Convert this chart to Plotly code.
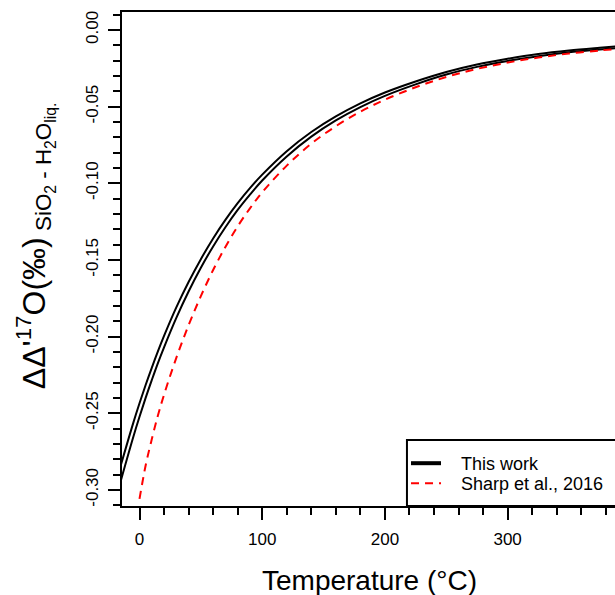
import plotly.graph_objects as go

# ---- data ----
temp_this = [-15, -5, 0, 5, 10, 15, 20, 30, 40, 50, 60, 70, 80, 90, 100, 120, 140, 160,
             180, 200, 225, 250, 275, 300, 325, 350, 375, 390]
this_upper = [-0.2833, -0.2561, -0.2435, -0.2316, -0.2204, -0.2097, -0.1996, -0.1810, -0.1644,
              -0.1495, -0.1360, -0.1239, -0.1130, -0.1032, -0.0944, -0.0791, -0.0666, -0.0564,
              -0.0479, -0.0408, -0.0336, -0.0274, -0.0225, -0.0188, -0.0157, -0.0134, -0.0116, -0.0106]
this_lower = [-0.2933, -0.2653, -0.2523, -0.2400, -0.2284, -0.2173, -0.2070, -0.1878, -0.1706,
              -0.1551, -0.1412, -0.1287, -0.1174, -0.1074, -0.0982, -0.0825, -0.0696, -0.0590,
              -0.0503, -0.0430, -0.0355, -0.0291, -0.0241, -0.0202, -0.0171, -0.0146, -0.0128, -0.0118]

temp_sharp = [0, 5, 10, 15, 20, 30, 40, 50, 60, 70, 80, 90, 100, 120, 140, 160, 180, 200,
              225, 250, 275, 300, 325, 350, 375, 390]
sharp_vals = [-0.3059, -0.2841, -0.2670, -0.2515, -0.2379, -0.2139, -0.1926, -0.1736, -0.1566,
              -0.1415, -0.1281, -0.1164, -0.1059, -0.0885, -0.0742, -0.0628, -0.0533, -0.0455,
              -0.0374, -0.0307, -0.0254, -0.0213, -0.0180, -0.0154, -0.0134, -0.0123]

x_tickvals = [0, 100, 200, 300]
x_ticktext = ["0", "100", "200", "300"]
y_tickvals = [0.0, -0.05, -0.10, -0.15, -0.20, -0.25, -0.30]
y_ticktext = ["0.00", "-0.05", "-0.10", "-0.15", "-0.20", "-0.25", "-0.30"]

FONT = "Liberation Sans, Arial, sans-serif"
NB = "\u00a0"

fig = go.Figure()
fig.add_trace(go.Scatter(x=temp_this, y=this_upper, mode="lines", line=dict(color="black", width=2, shape="spline"),
                         showlegend=False, hoverinfo="skip"))
fig.add_trace(go.Scatter(x=temp_this, y=this_lower, mode="lines", line=dict(color="black", width=2, shape="spline"),
                         showlegend=False, hoverinfo="skip"))
fig.add_trace(go.Scatter(x=[None], y=[None], mode="lines", line=dict(color="black", width=4),
                         name=NB * 3 + "This work", legend="legend"))
fig.add_trace(go.Scatter(x=temp_sharp, y=sharp_vals, mode="lines",
                         line=dict(color="#ff0000", width=2, dash="8px,6px", shape="spline"),
                         name=NB * 3 + "Sharp et al., 2016", legend="legend2"))

leg_common = dict(xanchor="left", yanchor="top", bgcolor="rgba(0,0,0,0)", borderwidth=0,
                  font=dict(family=FONT, size=18, color="black"), itemwidth=30)

fig.update_layout(
    width=615, height=595,
    margin=dict(l=122, r=0, t=12, b=89),
    paper_bgcolor="white", plot_bgcolor="white",
    font=dict(family=FONT, size=17, color="black"),
    showlegend=True,
    legend=dict(x=0.5761, y=0.1235, **leg_common),
    legend2=dict(x=0.5761, y=0.083, **leg_common),
    shapes=[dict(type="rect", xref="paper", yref="paper", x0=0.578, x1=1.2, y0=0, y1=0.1336,
                 line=dict(color="black", width=2), fillcolor="white", layer="above")],
    annotations=[
        dict(text="Temperature (°C)", xref="paper", yref="paper", x=0.503, y=-0.1498,
             xanchor="center", yanchor="middle", showarrow=False, font=dict(family=FONT, size=28)),
        dict(text="ΔΔ'<sup>17</sup>O(‰)<sub> SiO<sub>2</sub> - H<sub>2</sub>O<sub>liq.</sub></sub>",
             xref="paper", yref="paper", x=-0.176, y=0.5264, textangle=-90,
             xanchor="center", yanchor="middle", showarrow=False, font=dict(family=FONT, size=32)),
    ],
)

fig.update_xaxes(range=[-14.26, 387.5], showgrid=False, zeroline=False,
                 showline=True, linecolor="black", linewidth=2, mirror=True,
                 tickmode="array", tickvals=x_tickvals, ticktext=x_ticktext,
                 ticks="outside", ticklen=12, tickwidth=2, tickcolor="black", ticklabelstandoff=5,
                 minor=dict(dtick=20, tick0=0, ticks="outside", ticklen=7, tickwidth=2,
                            tickcolor="black", showgrid=False),
                 tickfont=dict(family=FONT, size=17))
fig.update_yaxes(range=[-0.3105, 0.0117], showgrid=False, zeroline=False,
                 showline=True, linecolor="black", linewidth=2, mirror=False,
                 tickmode="array", tickvals=y_tickvals, ticktext=y_ticktext, tickangle=-90,
                 ticks="outside", ticklen=12, tickwidth=2, tickcolor="black", ticklabelstandoff=3,
                 minor=dict(dtick=0.01, tick0=0, ticks="outside", ticklen=7, tickwidth=2,
                            tickcolor="black", showgrid=False),
                 tickfont=dict(family=FONT, size=17))

fig.write_html("out.html", config={"displayModeBar": False},
               post_script="document.body.style.margin='0';document.body.style.overflow='hidden';")
